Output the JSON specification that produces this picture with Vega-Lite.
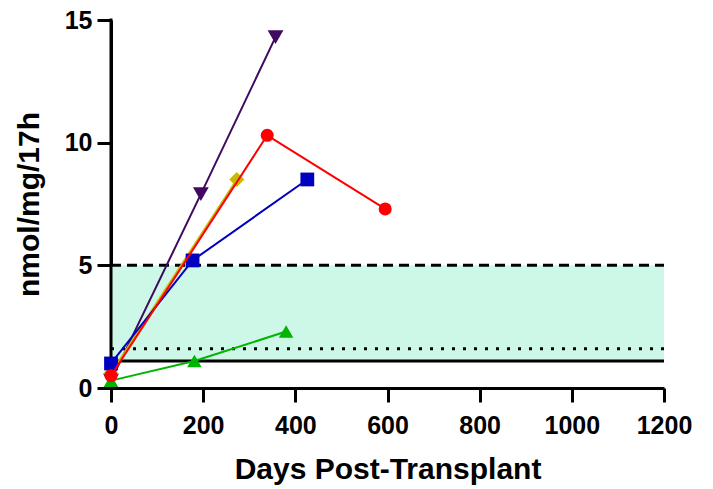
{
  "$schema": "https://vega.github.io/schema/vega-lite/v6.json",
  "width": 553,
  "height": 368,
  "autosize": "none",
  "padding": {"left": 111, "top": 20, "right": 49, "bottom": 101},
  "background": "white",
  "config": {
    "view": {"stroke": null},
    "font": "Liberation Sans",
    "axis": {
      "grid": false,
      "zindex": 1,
      "domainColor": "black",
      "domainWidth": 3,
      "tickColor": "black",
      "tickWidth": 3,
      "tickSize": 14,
      "labelFont": "Liberation Sans",
      "labelFontWeight": "bold",
      "labelFontSize": 25,
      "labelColor": "black",
      "labelOverlap": false,
      "labelBound": false,
      "labelFlush": false,
      "titleFont": "Liberation Sans",
      "titleFontWeight": "bold",
      "titleFontSize": 30,
      "titleColor": "black"
    }
  },
  "datasets": {
    "series": [
      {"patient": "P", "day": 0, "value": 0.3},
      {"patient": "P", "day": 195, "value": 7.9},
      {"patient": "P", "day": 357, "value": 14.3},
      {"patient": "Y", "day": 0, "value": 0.6},
      {"patient": "Y", "day": 273, "value": 8.5},
      {"patient": "G", "day": 0, "value": 0.3},
      {"patient": "G", "day": 181, "value": 1.1},
      {"patient": "G", "day": 380, "value": 2.3},
      {"patient": "B", "day": 0, "value": 1.0},
      {"patient": "B", "day": 177, "value": 5.2},
      {"patient": "B", "day": 426, "value": 8.5},
      {"patient": "R", "day": 0, "value": 0.5},
      {"patient": "R", "day": 339, "value": 10.3},
      {"patient": "R", "day": 595, "value": 7.3}
    ],
    "band": [{"start": 0, "end": 1200, "low": 1.1, "high": 5}],
    "refs": [
      {"kind": "dashed", "level": 5, "start": 0, "end": 1200},
      {"kind": "dotted", "level": 1.6, "start": 0, "end": 1200},
      {"kind": "solid", "level": 1.1, "start": 0, "end": 1200}
    ],
    "yline": [{"day": 0, "low": 0, "high": 15}]
  },
  "encoding": {
    "x": {
      "field": "day", "type": "quantitative",
      "scale": {"domain": [0, 1200], "nice": false},
      "axis": {"values": [0, 200, 400, 600, 800, 1000, 1200], "format": "d", "title": "Days Post-Transplant", "labelPadding": 11, "titlePadding": 16}
    },
    "y": {
      "field": "value", "type": "quantitative",
      "scale": {"domain": [0, 15], "nice": false},
      "axis": {"values": [0, 5, 10, 15], "format": "d", "title": "nmol/mg/17h", "labelPadding": 5, "titlePadding": 20}
    }
  },
  "layer": [
    {
      "data": {"name": "band"},
      "mark": {"type": "rect", "color": "#CDF7E6"},
      "encoding": {
        "x": {"field": "start", "type": "quantitative"},
        "x2": {"field": "end"},
        "y": {"field": "low", "type": "quantitative"},
        "y2": {"field": "high"}
      }
    },
    {
      "data": {"name": "refs"},
      "mark": {"type": "rule", "color": "black", "strokeCap": "butt"},
      "encoding": {
        "x": {"field": "start", "type": "quantitative"},
        "x2": {"field": "end"},
        "y": {"field": "level", "type": "quantitative"},
        "strokeDash": {"field": "kind", "type": "nominal", "scale": {"domain": ["solid", "dotted", "dashed"], "range": [[1, 0], [3, 8], [10, 6]]}, "legend": null},
        "strokeWidth": {"field": "kind", "type": "nominal", "scale": {"domain": ["solid", "dotted", "dashed"], "range": [3, 3, 4]}, "legend": null}
      }
    },
    {
      "data": {"name": "yline"},
      "mark": {"type": "rule", "color": "black", "strokeWidth": 3, "strokeCap": "square"},
      "encoding": {
        "x": {"field": "day", "type": "quantitative"},
        "y": {"field": "low", "type": "quantitative"},
        "y2": {"field": "high"}
      }
    },
    {
      "data": {"name": "series"},
      "transform": [{"filter": "datum.patient != 'R'"}],
      "mark": {"type": "line", "strokeWidth": 2},
      "encoding": {
        "color": {"field": "patient", "type": "nominal", "scale": {"domain": ["P", "Y", "G", "B", "R"], "range": ["#3F0A60", "#C8BA00", "#00B400", "#0000C0", "#FF0000"]}, "legend": null},
        "detail": {"field": "patient"}
      }
    },
    {
      "data": {"name": "series"},
      "transform": [{"filter": "datum.patient != 'R'"}],
      "mark": {"type": "point", "filled": true, "opacity": 1},
      "encoding": {
        "color": {"field": "patient", "type": "nominal", "legend": null},
        "shape": {"field": "patient", "type": "nominal", "scale": {"domain": ["P", "Y", "G", "B", "R"], "range": ["triangle-down", "diamond", "triangle-up", "square", "circle"]}, "legend": null},
        "size": {"field": "patient", "type": "nominal", "scale": {"domain": ["P", "Y", "G", "B", "R"], "range": [250, 170, 230, 256, 225]}, "legend": null}
      }
    },
    {
      "data": {"name": "series"},
      "transform": [{"filter": "datum.patient == 'R'"}],
      "mark": {"type": "line", "strokeWidth": 2},
      "encoding": {
        "color": {"field": "patient", "type": "nominal", "legend": null}
      }
    },
    {
      "data": {"name": "series"},
      "transform": [{"filter": "datum.patient == 'R'"}],
      "mark": {"type": "point", "filled": true, "opacity": 1},
      "encoding": {
        "color": {"field": "patient", "type": "nominal", "legend": null},
        "shape": {"field": "patient", "type": "nominal", "legend": null},
        "size": {"field": "patient", "type": "nominal", "legend": null}
      }
    }
  ]
}
